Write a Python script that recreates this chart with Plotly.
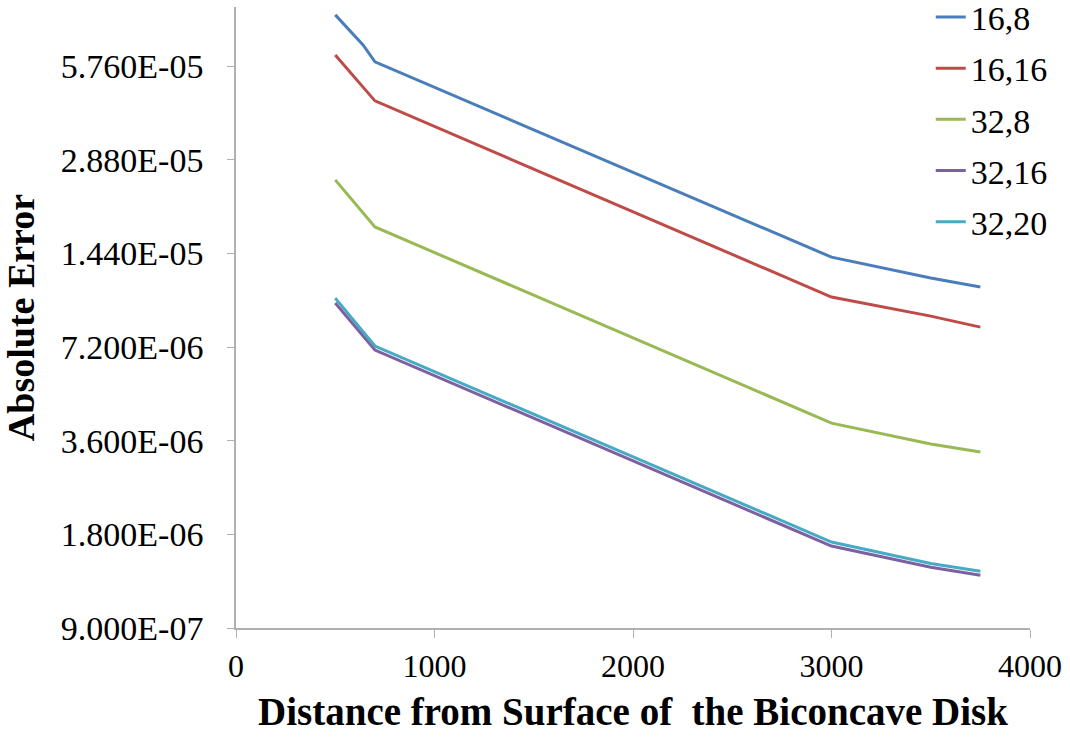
import plotly.graph_objects as go
import math

distance = [500, 640, 700, 3000, 3500, 3750]
err_16_8 = [8.41e-5, 6.73e-5, 5.94e-5, 1.40e-5, 1.20e-5, 1.122e-5]
err_16_16 = [6.25e-5, 4.90e-5, 4.45e-5, 1.042e-5, 9.05e-6, 8.34e-6]
err_32_8 = [2.48e-5, 1.94e-5, 1.75e-5, 4.10e-6, 3.51e-6, 3.31e-6]
err_32_16 = [9.97e-6, 7.80e-6, 7.04e-6, 1.65e-6, 1.41e-6, 1.33e-6]
err_32_20 = [1.034e-5, 8.10e-6, 7.25e-6, 1.70e-6, 1.45e-6, 1.37e-6]

series_names = ["16,8", "16,16", "32,8", "32,16", "32,20"]
series_values = [err_16_8, err_16_16, err_32_8, err_32_16, err_32_20]
colors = ["#4A7EBB", "#BE4B48", "#98B954", "#7D60A0", "#46AAC5"]

y_tick_vals = [9.0e-7, 1.8e-6, 3.6e-6, 7.2e-6, 1.44e-5, 2.88e-5, 5.76e-5]
y_tick_text = ["9.000E-07", "1.800E-06", "3.600E-06", "7.200E-06",
               "1.440E-05", "2.880E-05", "5.760E-05"]
x_tick_vals = [0, 1000, 2000, 3000, 4000]

FONT = "Liberation Serif"

fig = go.Figure()
for i, (name, vals, col) in enumerate(zip(series_names, series_values, colors)):
    fig.add_trace(go.Scatter(
        x=distance, y=vals, name=name, mode="lines",
        line=dict(color=col, width=3),
        legendgroup=f"g{i}",
    ))

y_top = 9.0e-7 * 2 ** 6.63

fig.update_layout(
    width=1070, height=738,
    plot_bgcolor="white", paper_bgcolor="white",
    margin=dict(l=236, r=40, t=7, b=110, autoexpand=False),
    font=dict(family=FONT, size=34, color="black"),
    showlegend=True,
    legend=dict(
        x=0.875, y=1.03, xanchor="left", yanchor="top",
        font=dict(family=FONT, size=34, color="black"),
        itemwidth=30, tracegroupgap=4,
        bgcolor="rgba(0,0,0,0)",
    ),
    xaxis=dict(
        range=[0, 4000], tickvals=x_tick_vals,
        showgrid=False, zeroline=False, automargin=False,
        showline=True, linecolor="#B0B0B0", linewidth=1.5,
        ticks="outside", ticklen=8, tickcolor="#B0B0B0",
        ticklabelstandoff=1,
        tickfont=dict(family=FONT, size=32),
        title=dict(text="<b>Distance from Surface of  the Biconcave Disk</b>",
                   font=dict(family=FONT, size=39)),
    ),
    yaxis=dict(
        type="log",
        range=[math.log10(9.0e-7), math.log10(y_top)],
        tickvals=y_tick_vals, ticktext=y_tick_text,
        showgrid=False, zeroline=False, automargin=False,
        showline=True, linecolor="#B0B0B0", linewidth=1.5,
        ticks="outside", ticklen=7, tickcolor="#B0B0B0",
        ticklabelstandoff=17,
        tickfont=dict(family=FONT, size=34),
        title=dict(text="<b>Absolute Error</b>",
                   font=dict(family=FONT, size=38)),
    ),
)

fig.write_html("out.html", config={"displayModeBar": False},
               post_script="document.body.style.margin='0px';")
